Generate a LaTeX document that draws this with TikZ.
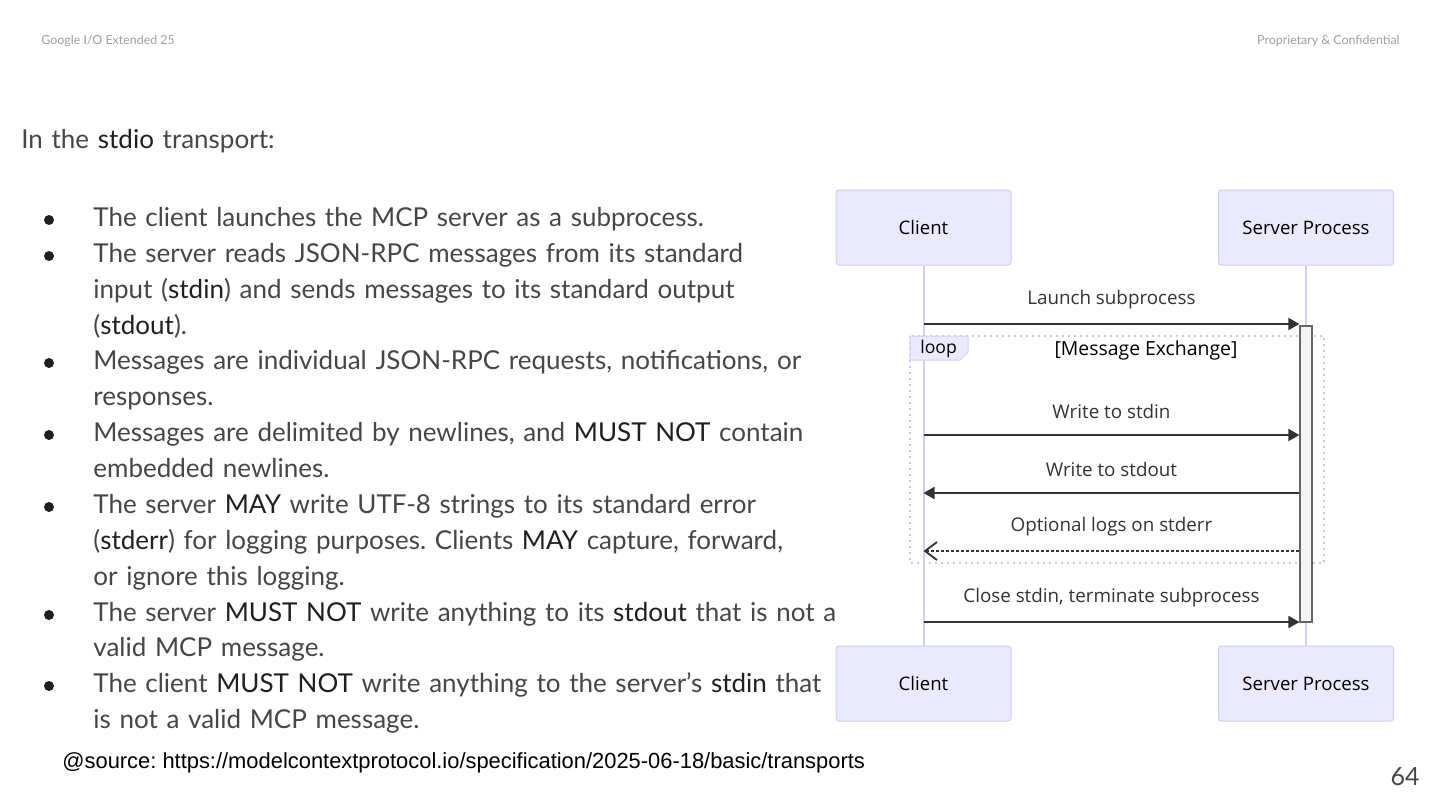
\documentclass[tikz,border=0pt]{standalone}
\usepackage{fontspec}
\setmainfont{Lato}
\newfontfamily\diagfont{Open Sans}
\newfontfamily\srcfont{Liberation Sans}
\usetikzlibrary{arrows.meta,positioning}
\frenchspacing

\definecolor{bodygray}{HTML}{444746}
\definecolor{codeblack}{HTML}{1F1F1F}
\definecolor{headgray}{HTML}{9AA0A6}
\definecolor{actorfill}{HTML}{EAEAFC}
\definecolor{actorline}{HTML}{CFCFF2}
\definecolor{lifeline}{HTML}{D5CFEF}
\definecolor{msgline}{HTML}{333333}
\definecolor{loopline}{HTML}{C9C9E3}
\definecolor{actfill}{HTML}{F4F4F4}
\definecolor{actline}{HTML}{666666}

\newcommand\code[1]{{\color{codeblack}#1}}

\tikzset{
  actor/.style={draw=actorline, fill=actorfill, rounded corners=1.5pt, line width=0.5pt,
    minimum width=87.5pt, minimum height=37.5pt, text=black,
    font=\diagfont\fontsize{9.3}{11}\selectfont},
  msg/.style={draw=msgline, line width=0.9pt, -{Triangle[length=5.5pt,width=6pt]}},
  logmsg/.style={draw=msgline, line width=0.9pt, dash pattern=on 1.5pt off 1pt,
    -{Straight Barb[length=6pt,width=9pt]}},
  msglabel/.style={midway, yshift=12pt, inner sep=0pt, text=msgline,
    font=\diagfont\fontsize{9.4}{11}\selectfont},
  bulletline/.style={anchor=base west, inner sep=0pt, text width=380pt, align=left,
    text=bodygray, font=\fontsize{13}{17.93}\selectfont},
  headline/.style={inner sep=0pt, text=headgray, font=\fontsize{6.2}{7.5}\selectfont},
}

\begin{document}
\begin{tikzpicture}[x=0.5pt,y=-0.5pt]
\useasboundingbox (0,0) rectangle (1440,810);
\fill[white] (0,0) rectangle (1440,810);

\node[headline, anchor=base west] (brand) at (41,44) {Google I/O Extended 25};
\node[headline, anchor=base east] (conf) at (1400,44) {Proprietary \& Confidential};
\node[anchor=base east, inner sep=0pt, text=bodygray, font=\fontsize{12.5}{14}\selectfont] (page) at (1420,785) {64};

\node[bulletline] (title) at (21,148) {In the \code{stdio} transport:};

\foreach \y in {217,253,360,432,504,612,683}
  \fill[codeblack] (49,\y+3) circle (2.5pt);

\node[bulletline] (b1) at (93,226.5) {The client launches the MCP server as a subprocess.};
\node[bulletline] (b2) at (93,262.4) {The server reads JSON-RPC messages from its standard\\
  input (\code{stdin}) and sends messages to its standard output\\
  (\code{stdout}).};
\node[bulletline] (b3) at (93,369.9) {Messages are individual JSON-RPC requests, notifications, or\\
  responses.};
\node[bulletline] (b4) at (93,441.6) {Messages are delimited by newlines, and \code{MUST NOT} contain\\
  embedded newlines.};
\node[bulletline] (b5) at (93,513.3) {The server \code{MAY} write UTF-8 strings to its standard error\\
  (\code{stderr}) for logging purposes. Clients \code{MAY} capture, forward,\\
  or ignore this logging.};
\node[bulletline] (b6) at (93,621) {The server \code{MUST NOT} write anything to its \code{stdout} that is not a\\
  valid MCP message.};
\node[bulletline] (b7) at (93,692.7) {The client \code{MUST NOT} write anything to the server’s \code{stdin} that\\
  is not a valid MCP message.};

\node[anchor=base west, inner sep=0pt, font=\srcfont\fontsize{10.95}{13}\selectfont] (source) at (62,768)
  {@source: https://modelcontextprotocol.io/specification/2025-06-18/basic/transports};

\node[actor] (clientTop) at (923.5,227.5) {Client};
\node[actor] (serverTop) at (1306,227.5) {Server Process};
\node[actor] (clientBot) at (923.5,683.5) {Client};
\node[actor] (serverBot) at (1306,683.5) {Server Process};

\draw[lifeline, line width=1pt] (clientTop) -- (clientBot);
\draw[lifeline, line width=1pt] (serverTop) -- (serverBot);

\draw[loopline, line width=0.9pt, dash pattern=on 1pt off 2pt] (910,336) rectangle (1324,563);
\filldraw[fill=actorfill, draw=actorline, line width=0.5pt] (910,336) -- (968,336) -- (968,352) -- (960,360) -- (910,360) -- cycle;
\node[anchor=west, inner sep=0pt, text=black, font=\diagfont\fontsize{8.8}{10}\selectfont] (looptag) at (920,348.5) {loop};
\node[inner sep=0pt, text=black, font=\diagfont\fontsize{9.7}{11}\selectfont] (loopcond) at (1146,350) {[Message Exchange]};

\node[draw=actline, fill=actfill, line width=0.6pt, minimum width=6pt, minimum height=148pt, inner sep=0pt] (act) at (1306,474) {};

\foreach \n/\y in {launch/324,stdin/435,stdout/493,stderr/551,close/622} {
  \coordinate (c-\n) at (clientTop.south |- 0,\y);
  \coordinate (s-\n) at (act.west |- 0,\y);
}

\draw[msg] (c-launch) -- node[msglabel] {Launch subprocess} (s-launch);
\draw[msg] (c-stdin) -- node[msglabel] {Write to stdin} (s-stdin);
\draw[msg] (s-stdout) -- node[msglabel] {Write to stdout} (c-stdout);
\draw[logmsg] (s-stderr) -- node[msglabel] {Optional logs on stderr} (c-stderr);
\draw[msg] (c-close) -- node[msglabel] {Close stdin, terminate subprocess} (s-close);
\end{tikzpicture}
\end{document}
